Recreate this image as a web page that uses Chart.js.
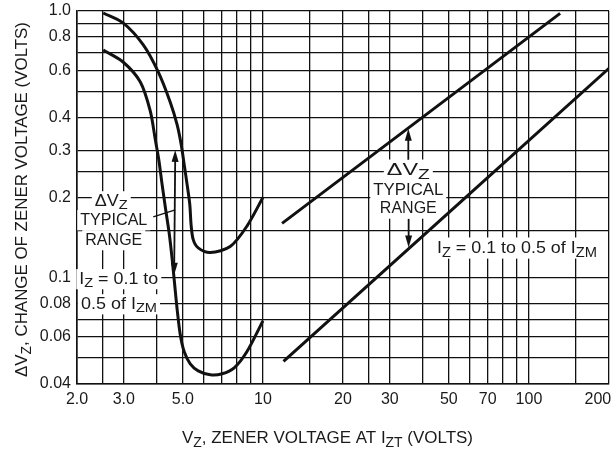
<!DOCTYPE html>
<html>
<head>
<meta charset="utf-8">
<script src="https://cdn.jsdelivr.net/npm/chart.js@4.4.1/dist/chart.umd.min.js"></script>
<style>
  html, body { margin: 0; padding: 0; background: #fff; }
</style>
</head>
<body>
<canvas id="chart" width="614" height="450"></canvas>
<script>
// low voltage devices (2.5 - 10 V): upper and lower edge of the typical range
const lowUpperVz = [2.51, 2.98, 3.55, 4.04, 4.48, 4.76, 4.93, 5.06, 5.19, 5.31, 5.37, 5.47, 5.71, 6.34, 7.53, 8.7, 10];
const lowUpperDv = [0.983, 0.902, 0.746, 0.591, 0.456, 0.374, 0.315, 0.265, 0.223, 0.188, 0.158, 0.139, 0.1295, 0.1244, 0.131, 0.156, 0.2];
const lowLowerVz = [2.51, 2.98, 3.46, 3.77, 3.94, 4.06, 4.18, 4.31, 4.45, 4.56, 4.66, 4.76, 4.89, 5.06, 5.33, 5.71, 6.34, 7.03, 7.8, 8.7, 10];
const lowLowerDv = [0.714, 0.644, 0.542, 0.422, 0.329, 0.277, 0.223, 0.18, 0.145, 0.117, 0.094, 0.076, 0.0612, 0.0528, 0.0476, 0.0448, 0.0433, 0.0437, 0.046, 0.0528, 0.069];

// higher voltage devices (12 - 200 V)
const highUpperVz = [11.8, 131];
const highUpperDv = [0.16, 0.98];
const highLowerVz = [11.95, 200];
const highLowerDv = [0.0486, 0.61];

// axes
const xGrid = [2, 2.5, 3, 4, 5, 6, 7, 8, 9, 10, 15, 20, 25, 30, 40, 50, 60, 70, 80, 90, 100, 150, 200];
const xTickValues = [2, 3, 5, 10, 20, 30, 50, 70, 100, 200];
const xTickLabels = ['2.0', '3.0', '5.0', '10', '20', '30', '50', '70', '100', '200'];
const yGrid = [0.04, 0.05, 0.06, 0.07, 0.08, 0.1, 0.15, 0.2, 0.25, 0.3, 0.4, 0.5, 0.6, 0.7, 0.8, 0.9, 1.0];
const yTickValues = [0.04, 0.06, 0.08, 0.1, 0.2, 0.3, 0.4, 0.6, 0.8, 1.0];
const yTickLabels = ['0.04', '0.06', '0.08', '0.1', '0.2', '0.3', '0.4', '0.6', '0.8', '1.0'];

const FONT = '"Liberation Sans", Arial, sans-serif';
const INK = '#111';

const pts = (xs, ys) => xs.map((x, i) => ({ x: x, y: ys[i] }));
const labelFor = (vals, labels, v) => {
  const i = vals.findIndex(t => Math.abs(t - v) < 1e-9);
  return i < 0 ? '' : labels[i];
};

// text with subscripts, e.g. [['ΔV'], ['Z', true]]
function richText(ctx, parts, x, y, opt) {
  const size = opt.size;
  const base = size + 'px ' + FONT;
  const sub = Math.round(size * 0.82) + 'px ' + FONT;
  let w = 0;
  const widths = parts.map(p => {
    ctx.font = p[1] ? sub : base;
    const m = ctx.measureText(p[0]).width;
    w += m;
    return m;
  });
  const sx = opt.width ? opt.width / w : 1;
  ctx.save();
  ctx.translate(x, y);
  if (opt.rotate) ctx.rotate(-Math.PI / 2);
  ctx.scale(sx, 1);
  let cx = opt.align === 'center' ? -w / 2 : 0;
  if (opt.bg) {
    ctx.fillStyle = '#fff';
    ctx.fillRect(cx - 3 / sx, -(size * 0.73 + 3), w + 6 / sx, size * 0.95 + 5);
  }
  ctx.fillStyle = '#1a1a1a';
  ctx.textBaseline = 'alphabetic';
  ctx.textAlign = 'left';
  parts.forEach((p, i) => {
    ctx.font = p[1] ? sub : base;
    ctx.fillText(p[0], cx, p[1] ? size * 0.22 : 0);
    cx += widths[i];
  });
  ctx.restore();
}

function arrowHead(ctx, x1, y1, x2, y2) {
  const a = Math.atan2(y2 - y1, x2 - x1), L = 12, W = 3.5;
  ctx.beginPath();
  ctx.moveTo(x2, y2);
  ctx.lineTo(x2 - L * Math.cos(a) + W * Math.sin(a), y2 - L * Math.sin(a) - W * Math.cos(a));
  ctx.lineTo(x2 - L * Math.cos(a) - W * Math.sin(a), y2 - L * Math.sin(a) + W * Math.cos(a));
  ctx.closePath();
  ctx.fill();
}

const notesPlugin = {
  id: 'notes',
  beforeDatasetsDraw(chart) {
    const ctx = chart.ctx, sx = chart.scales.x, sy = chart.scales.y;
    const P = (x, y) => [sx.getPixelForValue(x), sy.getPixelForValue(y)];
    const put = (parts, x, y, opt) => {
      const p = P(x, y);
      richText(ctx, parts, p[0], p[1], Object.assign({ bg: true }, opt));
    };
    // left block
    put([['ΔV'], ['Z', true]], 2.69, 0.186, { size: 16, align: 'center', width: 33 });
    put([['TYPICAL']], 2.75, 0.158, { size: 16, align: 'center', width: 67 });
    put([['RANGE']], 2.75, 0.133, { size: 16, align: 'center', width: 57 });
    put([['I'], ['Z', true], [' = 0.1 to']], 2.04, 0.095, { size: 16, width: 79 });
    put([['0.5 of I'], ['ZM', true]], 2.07, 0.0765, { size: 16, width: 76 });
    // right block
    put([['ΔV'], ['Z', true]], 35.2, 0.243, { size: 17, align: 'center', width: 43 });
    put([['TYPICAL']], 35.2, 0.2046, { size: 17, align: 'center', width: 70 });
    put([['RANGE']], 35.2, 0.175, { size: 17, align: 'center', width: 57 });
    put([['I'], ['Z', true], [' = 0.1 to 0.5 of I'], ['ZM', true]], 45.1, 0.124, { size: 17, width: 160 });
  },
  afterDatasetsDraw(chart) {
    const ctx = chart.ctx, sx = chart.scales.x, sy = chart.scales.y;
    const P = (x, y) => [sx.getPixelForValue(x), sy.getPixelForValue(y)];
    ctx.save();
    ctx.strokeStyle = INK;
    ctx.fillStyle = INK;
    ctx.lineWidth = 1.8;
    // left double arrow and leader
    let a = P(4.68, 0.3016), b = P(4.64, 0.1026);
    ctx.beginPath(); ctx.moveTo(a[0], a[1] + 8); ctx.lineTo(b[0], b[1] - 8); ctx.stroke();
    arrowHead(ctx, b[0], b[1], a[0], a[1]);
    arrowHead(ctx, a[0], a[1], b[0], b[1]);
    a = P(3.87, 0.1693); b = P(4.68, 0.1798);
    ctx.lineWidth = 1.4;
    ctx.beginPath(); ctx.moveTo(a[0], a[1]); ctx.lineTo(b[0], b[1]); ctx.stroke();
    // right arrows
    ctx.lineWidth = 1.8;
    a = P(35.2, 0.277); b = P(35.2, 0.362);
    ctx.beginPath(); ctx.moveTo(a[0], a[1]); ctx.lineTo(b[0], b[1] + 8); ctx.stroke();
    arrowHead(ctx, a[0], a[1], b[0], b[1]);
    a = P(35.3, 0.1663); b = P(35.3, 0.13);
    ctx.beginPath(); ctx.moveTo(a[0], a[1]); ctx.lineTo(b[0], b[1] - 8); ctx.stroke();
    arrowHead(ctx, a[0], a[1], b[0], b[1]);
    ctx.restore();

    // axis titles
    richText(ctx, [['V'], ['Z', true], [', ZENER VOLTAGE AT I'], ['ZT', true], [' (VOLTS)']],
      327.5, 443, { size: 17, align: 'center', width: 291 });
    richText(ctx, [['ΔV'], ['Z', true], [', CHANGE OF ZENER VOLTAGE (VOLTS)']],
      27, 199.5, { size: 17, align: 'center', width: 355, rotate: true });
  }
};

const curve = data => ({
  data: data,
  borderColor: INK,
  borderWidth: 3,
  pointRadius: 0,
  fill: false,
  tension: 0.3
});

const chart = new Chart(document.getElementById('chart').getContext('2d'), {
  type: 'line',
  data: {
    datasets: [
      curve(pts(lowUpperVz, lowUpperDv)),
      curve(pts(lowLowerVz, lowLowerDv)),
      curve(pts(highUpperVz, highUpperDv)),
      curve(pts(highLowerVz, highLowerDv))
    ]
  },
  options: {
    responsive: false,
    animation: false,
    devicePixelRatio: 1,
    layout: { padding: { top: 11, right: 5, left: 0, bottom: 0 } },
    plugins: { legend: { display: false }, tooltip: { enabled: false } },
    scales: {
      x: {
        type: 'logarithmic',
        min: 2,
        max: 200,
        afterBuildTicks: s => { s.ticks = xGrid.map(v => ({ value: v })); },
        afterFit: s => { s.height = 66; s.paddingLeft = 0; s.paddingRight = 0; },
        ticks: {
          autoSkip: false,
          maxRotation: 0,
          padding: 6,
          color: '#1a1a1a',
          font: { size: 16, family: FONT },
          // last label pushed left so it stays inside the frame
          callback: v => {
            const t = labelFor(xTickValues, xTickLabels, v);
            return v === 200 ? t + '     ' : t;
          }
        },
        grid: { color: INK, lineWidth: 1.3, drawTicks: false },
        border: { color: INK, width: 1.6 }
      },
      y: {
        type: 'logarithmic',
        min: 0.04,
        max: 1.0,
        afterBuildTicks: s => { s.ticks = yGrid.map(v => ({ value: v })); },
        afterFit: s => { s.width = 77; s.paddingTop = 0; s.paddingBottom = 0; },
        ticks: {
          autoSkip: false,
          padding: 6,
          color: '#1a1a1a',
          font: { size: 16, family: FONT },
          callback: v => labelFor(yTickValues, yTickLabels, v)
        },
        grid: { color: INK, lineWidth: 1.3, drawTicks: false },
        border: { color: INK, width: 1.6 }
      }
    }
  },
  plugins: [notesPlugin]
});
</script>
</body>
</html>
